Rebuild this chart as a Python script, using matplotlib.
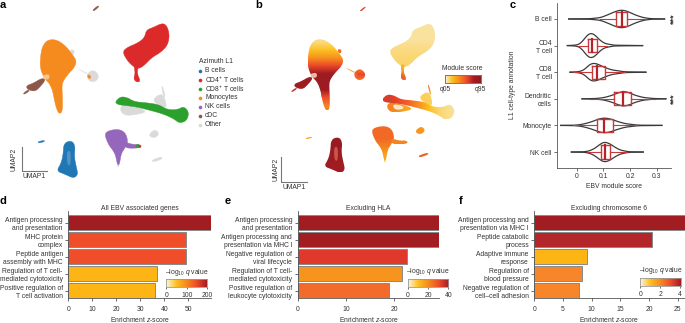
import numpy as np
import matplotlib
matplotlib.use('Agg')
import matplotlib.pyplot as plt
from matplotlib.colors import LinearSegmentedColormap
from matplotlib.patches import Polygon

plt.rcParams['font.family'] = ['Liberation Sans', 'DejaVu Sans']
plt.rcParams['font.size'] = 4.9
plt.rcParams['mathtext.fontset'] = 'custom'
plt.rcParams['mathtext.rm'] = 'Liberation Sans'
plt.rcParams['mathtext.it'] = 'Liberation Sans:italic'
plt.rcParams['mathtext.default'] = 'regular'
plt.rcParams['axes.linewidth'] = 0.6

W, H = 685, 323
TXT = '#333333'
AX = '#555555'
FS = 4.9

# ===================== UMAP clusters (outlines) =====================
mono = [(145,123),(170,123),(195,140),(215,165),(228,185),(220,205),(205,220),(190,240),(185,255),(187,290),(187,330),(177,338),(167,315),(160,275),(150,250),(135,235),(122,205),(124,165),(130,140)]
cdc = [(125,235),(136,240),(120,260),(105,274),(83,268),(80,257),(100,250)]
cdc_tail = [(70,280),(85,269),(88,273),(73,283)]
cdc_top = [(278,30),(294,17),(297,20),(282,33)]
cd4 = [(485,72),(498,79),(506,105),(501,135),(481,156),(455,171),(431,196),(415,204),(400,196),(385,181),(371,157),(380,144),(415,129),(434,114),(439,92),(460,84)]
cd4_tail = [(402,198),(415,198),(411,220),(421,243),(410,246),(401,236),(406,220)]
cd8 = [(349,307),(365,291),(385,294),(405,306),(440,309),(475,314),(500,329),(530,329),(548,319),(563,337),(556,361),(535,368),(520,356),(495,344),(470,336),(440,328),(410,321),(390,318),(370,316),(358,314)]
nk = [(315,405),(325,394),(355,389),(375,399),(383,425),(373,445),(363,460),(358,492),(352,492),(347,465),(339,450),(327,435)]
nk_tail = [(375,426),(395,433),(420,434),(422,443),(390,445),(375,441)]
nk_green = [(408,434),(418,433),(418,442),(408,442)]
nk_red = [(417,435),(423,436),(423,442),(417,442)]
b_cell = [(192,431),(215,424),(225,440),(222,470),(228,500),(233,522),(220,533),(195,521),(171,512),(184,490),(190,465)]
b_small = [(114,425),(133,421),(133,425),(116,429)]
other_mono = [(263,220),(280,210),(296,225),(291,241),(275,246),(263,236)]
other_mono_tail = [(238,208),(264,220),(262,223),(238,210)]
other_mono_top = [(210,150),(223,150),(221,164),(214,160)]
other_mono2 = [(160,270),(170,275),(171,301),(162,301)]
other_cd8a = [(368,314),(410,322),(441,335),(405,344),(375,346),(361,331)]
other_cd8b = [(475,285),(491,285),(501,326),(475,316),(459,300)]
other_cd8c = [(485,260),(488,260),(496,290),(491,290)]
other_c = [(445,405),(465,388),(478,402),(462,415)]
other_d = [(456,480),(485,470),(486,477),(460,486)]
other_nk = [(352,483),(357,483),(357,500),(353,500)]
mono_bit = [(263,224),(272,227),(272,236),(264,234)]

# name, outline, colour in a, score stops in b, gradient direction in b
clusters = [
    ('other', other_mono, '#DADADA', [0.5, 0.62, 0.5], 'v'),
    ('other', other_mono_tail, '#E8E8E8', [0.3, 0.3], 'v'),
    ('other', other_mono_top, '#DADADA', [0.5, 0.5], 'v'),
    ('other', other_mono2, '#DADADA', [0.55, 0.55], 'v'),
    ('other', other_cd8a, '#DADADA', [0.42, 0.3], 'h'),
    ('other', other_cd8b, '#DADADA', [0.14, 0.14], 'h'),
    ('other', other_cd8c, '#DADADA', [0.5, 0.3], 'v'),
    ('other', other_c, '#DADADA', [0.35, 0.35], 'v'),
    ('other', other_d, '#DADADA', [0.52, 0.52], 'v'),
    ('other', other_nk, '#DADADA', [0.35, 0.2], 'v'),
    ('mono', mono, '#F58A1F', [0.1, 0.2, 0.38, 0.62, 0.82, 0.86, 0.8, 0.58, 0.42], 'v'),
    ('mono', mono_bit, '#F58A1F', [0.5, 0.5], 'v'),
    ('cdc', cdc, '#8C564B', [0.85, 0.82], 'v'),
    ('cdc', cdc_tail, '#8C564B', [0.72, 0.72], 'v'),
    ('cdc', cdc_top, '#8C564B', [0.62, 0.62], 'v'),
    ('cd4', cd4, '#DC2A2A', [0.07, 0.07, 0.1, 0.12], 'v'),
    ('cd4', cd4_tail, '#DC2A2A', [0.25, 0.52], 'v'),
    ('cd8', cd8, '#2CA02C', [0.66, 0.62, 0.52, 0.38, 0.2, 0.12, 0.08], 'h'),
    ('nk', nk, '#9467BD', [0.5, 0.5, 0.42, 0.3], 'v'),
    ('nk', nk_tail, '#9467BD', [0.42, 0.42], 'h'),
    ('nk', nk_green, '#2CA02C', [0.42, 0.42], 'h'),
    ('nk', nk_red, '#DC2A2A', [0.42, 0.42], 'h'),
    ('b', b_cell, '#1F77B4', [0.88, 0.86, 0.8], 'v'),
    ('b', b_small, '#1F77B4', [0.3, 0.3], 'h'),
]
# paler patches inside the clusters
hole_mono = [(128,226),(148,222),(148,238),(132,238)]
hole_cd8 = [(378,320),(408,325),(412,335),(385,338)]
hole_b = [(200,455),(212,452),(212,495),(202,495)]

legend_names = ['B cells', 'CD4$^{+}$ T cells', 'CD8$^{+}$ T cells', 'Monocytes', 'NK cells', 'cDC', 'Other']
legend_colors = ['#1F77B4', '#DC2A2A', '#2CA02C', '#F58A1F', '#9467BD', '#8C564B', '#D9D9D9']

# ===================== panel c =====================
violin_names = ['B cell', 'CD4\nT cell', 'CD8\nT cell', 'Dendritic\ncells', 'Monocyte', 'NK cell']
v_x = [
    [-0.03, 0.05, 0.09, 0.12, 0.15, 0.17, 0.19, 0.22, 0.25, 0.28, 0.33],
    [-0.035, 0.0, 0.015, 0.03, 0.045, 0.055, 0.07, 0.085, 0.105, 0.14, 0.2475],
    [-0.025, 0.01, 0.03, 0.045, 0.055, 0.065, 0.08, 0.1, 0.13, 0.18, 0.26],
    [0.02, 0.07, 0.1, 0.13, 0.155, 0.175, 0.195, 0.22, 0.25, 0.29, 0.335],
    [-0.06, 0.0, 0.03, 0.06, 0.085, 0.105, 0.125, 0.15, 0.18, 0.23, 0.32],
    [-0.02, 0.03, 0.05, 0.07, 0.09, 0.105, 0.125, 0.145, 0.165, 0.195, 0.25],
]
v_w = [
    [0.0, 0.01, 0.05, 0.17, 0.3, 0.34, 0.29, 0.15, 0.05, 0.01, 0.0],
    [0.0, 0.02, 0.08, 0.27, 0.44, 0.47, 0.39, 0.22, 0.08, 0.015, 0.0],
    [0.0, 0.02, 0.1, 0.26, 0.32, 0.34, 0.3, 0.2, 0.09, 0.015, 0.0],
    [0.0, 0.01, 0.04, 0.12, 0.22, 0.28, 0.24, 0.13, 0.05, 0.01, 0.0],
    [0.0, 0.01, 0.06, 0.15, 0.25, 0.28, 0.25, 0.16, 0.07, 0.01, 0.0],
    [0.0, 0.01, 0.05, 0.15, 0.31, 0.38, 0.31, 0.17, 0.07, 0.01, 0.0],
]
box_q1 = [0.1475, 0.0425, 0.056, 0.141, 0.075, 0.09]
box_med = [0.169, 0.059, 0.0775, 0.1725, 0.104, 0.105]
box_q3 = [0.19, 0.075, 0.106, 0.2025, 0.1375, 0.125]
whisk_lo = [0.0875, 0.006, -0.015, 0.05, -0.0125, 0.0375]
whisk_hi = [0.256, 0.1125, 0.181, 0.294, 0.225, 0.1875]
c_ticks = [0, 0.1, 0.2, 0.3]
c_ticklabels = ['0', '0.1', '0.2', '0.3']
c_stars = ['B cell', 'Dendritic\ncells']

# ===================== panels d, e, f =====================
d_terms = ['Antigen processing\nand presentation', 'MHC protein\ncomplex', 'Peptide antigen\nassembly with MHC', 'Regulation of T cell-\nmediated cytotoxicity', 'Positive regulation of\nT cell activation']
d_z = [59.3, 49, 49, 37, 36]
d_colors = ['#A11D22', '#F04E2B', '#F04E2B', '#FDB515', '#FDB515']
e_terms = ['Antigen processing\nand presentation', 'Antigen processing and\npresentation via MHC I', 'Negative regulation of\nviral lifecycle', 'Regulation of T cell-\nmediated cytotoxicity', 'Positive regulation of\nleukocyte cytotoxicity']
e_z = [29.3, 29.3, 22.6, 21.5, 18.8]
e_colors = ['#A11D22', '#A11D22', '#E0392B', '#F7941D', '#F26B2A']
f_terms = ['Antigen processing and\npresentation via MHC I', 'Peptide catabolic\nprocess', 'Adaptive immune\nresponse', 'Regulation of\nblood pressure', 'Negative regulation of\ncell\u2013cell adhesion']
f_z = [26.3, 20.5, 9.25, 8.3, 7.8]
f_colors = ['#A11D22', '#B3262A', '#FDB515', '#F7862A', '#F7862A']

score_cmap = LinearSegmentedColormap.from_list('score', ['#F8F3DC', '#FDC020', '#F58A1F', '#EE4B2B', '#A11D22', '#8E1A20'])
q_cmap = LinearSegmentedColormap.from_list('q', ['#FBF7E4', '#FDC020', '#F58A1F', '#EE4B2B', '#A11D22'])

fig = plt.figure(figsize=(W / 100, H / 100), dpi=100)


def add_ax(x0, y0, x1, y1):
    # pixel box, y from the top
    return fig.add_axes([x0 / W, 1 - y1 / H, (x1 - x0) / W, (y1 - y0) / H])


def label(x, y, s, **kw):
    kw.setdefault('color', TXT)
    kw.setdefault('ha', 'center')
    kw.setdefault('va', 'center')
    fig.text(x / W, 1 - y / H, s, **kw)


def smooth(pts, n=2):
    # corner cutting so that outlines are not angular, widened a little to make up for the cut
    p = np.array(pts, dtype=float)
    for _ in range(n):
        q = np.roll(p, -1, axis=0)
        p = np.column_stack([0.75 * p + 0.25 * q, 0.25 * p + 0.75 * q]).reshape(-1, 2)
    c = p.mean(axis=0)
    return c + (p - c) * 1.04


def umap_ax(x0, y0, x1, y1):
    ax = add_ax(x0, y0, x1, y1)
    ax.set_xlim(0, 780)
    ax.set_ylim(540, 0)
    ax.axis('off')
    return ax


# panel a
ax_a = umap_ax(0, 0, 260, 180)
for name, pts, col, stops, way in clusters:
    ax_a.add_patch(Polygon(smooth(pts), closed=True, fc=col, ec=col, lw=0.3))
ax_a.add_patch(Polygon(smooth(hole_mono), closed=True, fc='#F9C58A', ec='none'))
ax_a.add_patch(Polygon(smooth(hole_b), closed=True, fc='#4F93C6', ec='none'))

# panel b
ax_b = umap_ax(268, 1, 525, 175)
for name, pts, col, stops, way in clusters:
    p = smooth(pts)
    patch = Polygon(p, closed=True, fc='none', ec='none')
    ax_b.add_patch(patch)
    grad = np.array(stops)[:, None] if way == 'v' else np.array(stops)[None, :]
    im = ax_b.imshow(grad, cmap=score_cmap, vmin=0, vmax=1, aspect='auto', interpolation='bilinear',
                     extent=[p[:, 0].min(), p[:, 0].max(), p[:, 1].max(), p[:, 1].min()])
    im.set_clip_path(patch)
ax_b.set_xlim(0, 780)
ax_b.set_ylim(540, 0)
ax_b.add_patch(Polygon(smooth(hole_mono), closed=True, fc='#EFB9A0', ec='none'))
ax_b.add_patch(Polygon(smooth(hole_cd8), closed=True, fc='#FBE9CF', ec='none'))
ax_b.add_patch(Polygon(smooth(hole_b), closed=True, fc='#C9554B', ec='none'))

# scale bars
for x0, y0, x1, y1, ytxt, xtxt in [(21.7, 147, 46.7, 171, 14.5, 34.5), (281, 157, 306.7, 182, 275.5, 294)]:
    fig.add_artist(plt.Line2D([x0 / W, x0 / W, x1 / W], [1 - y0 / H, 1 - y1 / H, 1 - y1 / H], color='#777777', lw=0.8))
    label(ytxt, (y0 + y1) / 2, 'UMAP2', rotation=90)
    label(xtxt, y1 + 6, 'UMAP1')

# legend of a
label(199, 61.5, 'Azimuth L1', ha='left')
for i, name in enumerate(legend_names):
    yy = 71 + i * 8.97
    fig.add_artist(plt.Line2D([199.5 / W], [1 - yy / H], marker='o', ms=2.6, color=legend_colors[i], lw=0, mew=0))
    label(205, yy, name, ha='left')

# module score colour bar
ax_cb = add_ax(445, 75, 480.7, 82.7)
ax_cb.imshow(np.linspace(0, 1, 256)[None, :], cmap=score_cmap, aspect='auto')
ax_cb.set_xticks([])
ax_cb.set_yticks([])
for s in ax_cb.spines.values():
    s.set_color('#777777')
    s.set_linewidth(0.7)
label(462.7, 69, 'Module score')
label(445, 89, 'q05')
label(480, 89, 'q95')

# panel c
ax_c = add_ax(556.7, 3, 670.7, 168)
ypos = np.arange(len(violin_names))
for i in ypos:
    vx = np.array(v_x[i])
    vw = np.array(v_w[i])
    xs = np.linspace(vx[0], vx[-1], 120)
    # smooth the read-off profile for drawing
    ws = np.convolve(np.interp(xs, vx, vw), np.ones(9) / 9, mode='same')
    ax_c.plot(xs, i - ws, color='#3A3A3A', lw=0.9)
    ax_c.plot(xs, i + ws, color='#3A3A3A', lw=0.9)
    ax_c.plot([whisk_lo[i], box_q1[i]], [i, i], color='#C8393B', lw=0.8)
    ax_c.plot([box_q3[i], whisk_hi[i]], [i, i], color='#C8393B', lw=0.8)
    ax_c.plot([box_q1[i], box_q3[i], box_q3[i], box_q1[i], box_q1[i]],
              [i - 0.25, i - 0.25, i + 0.25, i + 0.25, i - 0.25], color='#C8393B', lw=1.0)
    ax_c.plot([box_med[i], box_med[i]], [i - 0.25, i + 0.25], color='#B5222A', lw=1.6)
ax_c.set_xlim(-0.075, 0.353)
ax_c.set_ylim(5.6, -0.6)
ax_c.set_xticks(c_ticks)
ax_c.set_xticklabels(c_ticklabels)
ax_c.set_yticks(ypos)
ax_c.set_yticklabels(violin_names, linespacing=1.25)
ax_c.tick_params(length=2, width=0.5, pad=1.5, colors=TXT, labelsize=FS)
ax_c.spines[['top', 'right']].set_visible(False)
for s in ax_c.spines.values():
    s.set_color(AX)
for name in c_stars:
    yy = 19 + violin_names.index(name) * 26.6
    label(674, yy, '***', rotation=90, fontsize=6.5, fontweight='bold', va='center', ha='center')
label(513, 85, 'L1 cell-type annotation', rotation=90)
label(614, 186, 'EBV module score')


def enrich(x0, x1, xmax, xticks, terms, z, colors, title, cbar_box, cbar_ticks, cbar_max):
    ax = add_ax(x0, 210.7, x1, 298.3)
    ax.barh(range(len(z)), z, height=0.9, color=colors, edgecolor='#8A8A8A', linewidth=0.7)
    ax.set_xlim(0, xmax)
    ax.set_ylim(4.45, -0.7)
    ax.set_xticks(xticks)
    ax.set_yticks(range(len(terms)))
    ax.set_yticklabels(terms, linespacing=1.2)
    ax.tick_params(axis='x', length=2, width=0.5, pad=3.5, colors=TXT, labelsize=FS)
    ax.tick_params(axis='y', length=2, width=0.5, pad=2, colors=TXT, labelsize=FS)
    ax.spines[['top', 'right']].set_visible(False)
    for s in ax.spines.values():
        s.set_color(AX)
    xc = (x0 + x1) / 2
    label(xc, 208, title)
    label(xc, 319.5, 'Enrichment $\\it{z}$-score')
    # colour key
    bx0, by0, bx1, by1 = cbar_box
    cax = add_ax(bx0, by0, bx1, by1)
    cax.imshow(np.linspace(0, 1, 256)[None, :], cmap=q_cmap, aspect='auto', extent=[0, cbar_max, 0, 1])
    cax.set_xticks(cbar_ticks)
    cax.set_yticks([])
    cax.tick_params(length=1.5, width=0.5, pad=2, colors=TXT, labelsize=FS)
    for s in cax.spines.values():
        s.set_color('#999999')
        s.set_linewidth(0.6)
    label((bx0 + bx1) / 2, by0 - 7, '\u2013log$_{10}$ $\\it{q}$ value')


enrich(68.3, 210.7, 59.3, [0, 10, 20, 30, 40, 50], d_terms, d_z, d_colors, 'All EBV associated genes',
       (166.3, 279, 207.3, 287.3), [0, 100, 200], 200)
enrich(297.7, 439.3, 29.3, [0, 10, 20], e_terms, e_z, e_colors, 'Excluding HLA',
       (407.7, 278.7, 448.3, 287), [0, 20, 40], 40)
enrich(534.3, 684.5, 26.2, [0, 5, 10, 15, 20, 25], f_terms, f_z, f_colors, 'Excluding chromosome 6',
       (640.3, 278, 681, 286), [0, 2, 4], 4.1)

# panel letters
for s, x, y in [('a', 3, 5), ('b', 259, 5), ('c', 513, 5), ('d', 3, 201), ('e', 228, 201), ('f', 461, 201)]:
    label(x, y, s, color='black', fontsize=8, fontweight='bold')

fig.savefig('out.png', dpi=100)
